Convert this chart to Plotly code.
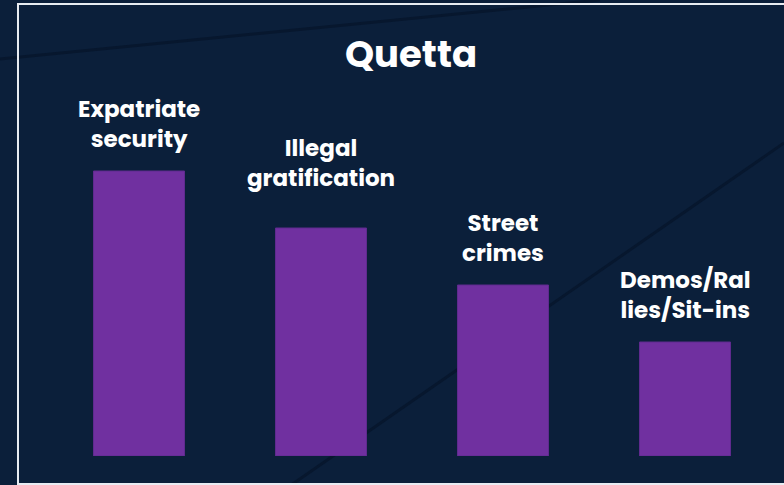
import plotly.graph_objects as go

categories = ["Expatriate security", "Illegal gratification", "Street crimes", "Demos/Rallies/Sit-ins"]
label_text = ["Expatriate<br>security", "Illegal<br>gratification", "Street<br>crimes", "Demos/Ral<br>lies/Sit-ins"]
values = [5, 4, 3, 2]
label_lift = [14, 32, 14, 14]  # px gap between bar top and label

W, H = 784, 485
ML, MR, MT, MB = 48, 8, 57, 29
PW, PH = W - ML - MR, H - MT - MB

def px(x, y):
    return (x - ML) / PW, (H - MB - y) / PH

BG = "#0b1f3a"
FONT = "Poppins, Inter, sans-serif"

fig = go.Figure(go.Bar(
    x=categories, y=values,
    marker=dict(color="#7030a0", line=dict(color="#5f2a8e", width=1)),
    width=0.5, hoverinfo="skip",
))

for cat, txt, v, lift in zip(categories, label_text, values, label_lift):
    fig.add_annotation(x=cat, y=v, text=f"<b>{txt}</b>", showarrow=False,
                       yanchor="bottom", xanchor="center", yshift=lift,
                       font=dict(family=FONT, size=23, color="white"))

shapes = []
# faint diagonal background lines
for (a, b) in [((0, 59), (600, 0)), ((284, 490), (784, 143))]:
    x0, y0 = px(*a)
    x1, y1 = px(*b)
    shapes.append(dict(type="line", xref="paper", yref="paper", x0=x0, y0=y0, x1=x1, y1=y1,
                       line=dict(color="#07172e", width=3), layer="below"))
# white frame
fx0, fy0 = px(18, 484)
fx1, fy1 = px(792, 4)
shapes.append(dict(type="rect", xref="paper", yref="paper", x0=fx0, y0=fy0, x1=fx1, y1=fy1,
                   line=dict(color="#e8ecf2", width=2), fillcolor="rgba(0,0,0,0)", layer="above"))

fig.update_layout(
    width=W, height=H,
    margin=dict(l=ML, r=MR, t=MT, b=MB),
    paper_bgcolor=BG, plot_bgcolor=BG,
    title=dict(text="<b>Quetta</b>", x=(411) / W, xanchor="center",
               y=(H - 54) / H, yanchor="middle", yref="container",
               font=dict(family=FONT, size=37, color="white")),
    xaxis=dict(showticklabels=False, showgrid=False, zeroline=False, showline=False, fixedrange=True),
    yaxis=dict(range=[0, 7], showticklabels=False, showgrid=False, zeroline=False, showline=False, fixedrange=True),
    shapes=shapes,
    showlegend=False,
)

fig.write_html("out.html", config={"displayModeBar": False},
               post_script="document.body.style.margin='0';document.body.style.background='%s';" % BG)
